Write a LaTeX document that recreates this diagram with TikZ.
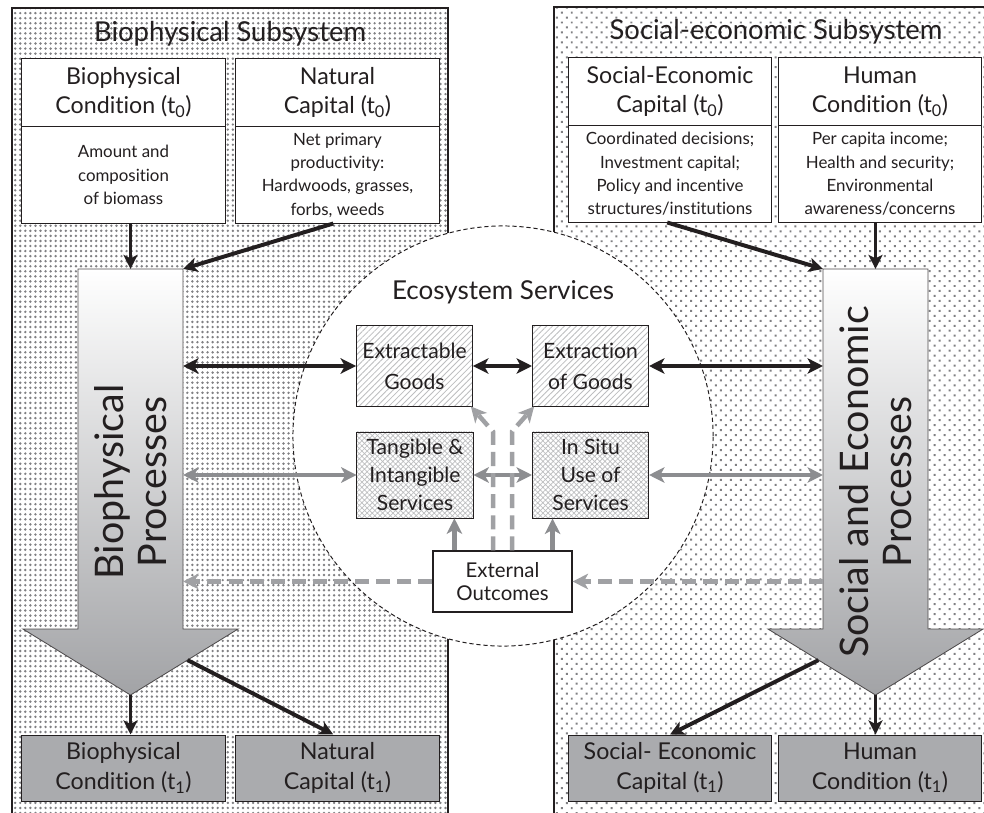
\documentclass[tikz,border=0pt]{standalone}
\usepackage{fontspec}
\setmainfont{Lato}[Ligatures=NoCommon]
\usetikzlibrary{positioning, arrows.meta, patterns.meta, calc}
\usepackage{xcolor}
\definecolor{InkBlack}{HTML}{231F20}
\definecolor{DotGray}{HTML}{808083}
\definecolor{FlowGray}{HTML}{8C8D90}
\definecolor{DashGray}{HTML}{A0A1A4}
\definecolor{BoxGray}{HTML}{AAABAE}
\definecolor{ArrowGray}{HTML}{A2A3A6}
\definecolor{HatchGray}{HTML}{BDBEC0}

\begin{document}
\begin{tikzpicture}[x=0.025cm, y=-0.025cm,
    panelline/.style={draw=InkBlack, line width=0.8pt},
    paneltitle/.style={anchor=base, font=\fontsize{19.5}{23}\selectfont, text=InkBlack},
    headbox/.style={draw=InkBlack, fill=white, line width=0.7pt, minimum width=5.075cm,
      minimum height=1.675cm, align=center, inner sep=2pt,
      font=\fontsize{16.5}{21}\selectfont, text=InkBlack},
    bodybox/.style={headbox, minimum height=2.4cm, font=\fontsize{12}{16.6}\selectfont},
    endbox/.style={headbox, fill=BoxGray, minimum height=1.65cm},
    goodsbox/.style={draw=InkBlack, line width=0.7pt,
      pattern={Lines[angle=45, distance=3pt, line width=0.6pt]}, pattern color=HatchGray,
      minimum width=2.9cm, minimum height=2cm, align=center, inner sep=1pt,
      font=\fontsize{15}{22}\selectfont, text=InkBlack},
    servbox/.style={goodsbox, pattern={Hatch[angle=45, distance=2.6pt, line width=0.5pt]},
      minimum height=2.15cm, font=\fontsize{15}{20}\selectfont},
    outbox/.style={draw=InkBlack, fill=white, line width=0.8pt, minimum width=3.475cm,
      minimum height=1.525cm, align=center, font=\fontsize{14.5}{16}\selectfont, text=InkBlack},
    ecoring/.style={circle, draw=InkBlack, fill=white, line width=0.7pt,
      dash pattern=on 3pt off 2pt, minimum size=10.5cm},
    shaft/.style={minimum width=2.625cm, minimum height=9cm, inner sep=0pt, outer sep=0pt},
    bigarrow/.style={draw=InkBlack!80, line width=0.6pt, top color=white, bottom color=ArrowGray},
    proctext/.style={rotate=90, align=center, font=\fontsize{28}{31}\selectfont, text=InkBlack},
    feed/.style={draw=InkBlack, line width=2.8pt, -{Stealth[length=10pt, width=10pt, inset=2.5pt]}},
    goodsflow/.style={draw=InkBlack, line width=3.2pt,
      {Stealth[length=11pt, width=11pt, inset=3pt]}-{Stealth[length=11pt, width=11pt, inset=3pt]}},
    serviceflow/.style={goodsflow, draw=FlowGray},
    upflow/.style={draw=FlowGray, line width=3.2pt, -{Stealth[length=11pt, width=11pt, inset=3pt]}},
    outflow/.style={draw=DashGray, line width=3.2pt, dash pattern=on 10pt off 5pt,
      -{Stealth[length=11pt, width=11pt, inset=3pt]}}]

    \useasboundingbox (0,0) rectangle (984,813);
    \clip (0,0) rectangle (984,813);

    % Subsystem panels
    \fill[pattern={Dots[distance=3.6pt, radius=0.95pt]}, pattern color=DotGray] (12,8) rectangle (448,813);
    \draw[panelline] (12,813) -- (12,8) -- (448,8) -- (448,813);
    \fill[pattern={Dots[distance=5pt, angle=45, radius=1pt]}, pattern color=DotGray] (554,7) rectangle (984,813);
    \draw[panelline] (554,813) -- (554,7) -- (984,7);

    \node[paneltitle] (bioT) at (230,42) {Biophysical Subsystem};
    \node[paneltitle] (socT) at (776,40) {Social-economic Subsystem};

    % Conditions and capital at t0
    \node[headbox] (bioCh) at (123.5,92.5) {Biophysical\\Condition (t\textsubscript{0})};
    \node[bodybox, below=0pt of bioCh] (bioCb) {Amount and\\composition\\of biomass};
    \node[headbox] (natCh) at (337.5,92.5) {Natural\\Capital (t\textsubscript{0})};
    \node[bodybox, below=0pt of natCh] (natCb) {Net primary\\productivity:\\Hardwoods, grasses,\\forbs, weeds};
    \node[headbox] (socCh) at (670,91.5) {Social-Economic\\Capital (t\textsubscript{0})};
    \node[bodybox, below=0pt of socCh] (socCb) {Coordinated decisions;\\Investment capital;\\Policy and incentive\\structures/institutions};
    \node[headbox] (humCh) at (880,91.5) {Human\\Condition (t\textsubscript{0})};
    \node[bodybox, below=0pt of humCh] (humCb) {Per capita income;\\Health and security;\\Environmental\\awareness/concerns};

    % Ecosystem services
    \node[ecoring] (eco) at (503,436) {};
    \node[paneltitle, font=\fontsize{18.5}{22}\selectfont] (ecoT) at (503,299) {Ecosystem Services};

    % Process arrows
    \node[shaft] (bioP) at (130.5,449) {};
    \path[bigarrow] (bioP.north west) -- (bioP.north east) -- (bioP.south east)
      -- ++(55,0) coordinate (bioHR) -- ($(bioP.south)+(0,66)$) coordinate (bioTip)
      -- ($(bioP.south west)+(-55,0)$) -- (bioP.south west) -- cycle;
    \node[proctext] (bioPT) at (130.5,482) {Biophysical\\Processes};

    \node[shaft] (socP) at (875.5,449) {};
    \path[bigarrow] (socP.north west) -- (socP.north east) -- (socP.south east)
      -- ++(55,0) -- ($(socP.south)+(0,66)$) coordinate (socTip)
      -- ($(socP.south west)+(-55,0)$) coordinate (socHL) -- (socP.south west) -- cycle;
    \node[proctext] (socPT) at (875.5,482) {Social and Economic\\Processes};

    % Goods and services
    \node[goodsbox] (xgoods) at (414.5,366) {Extractable\\Goods};
    \node[goodsbox] (xtract) at (590.5,366) {Extraction\\of Goods};
    \node[servbox] (tangs) at (415,475) {Tangible \&\\Intangible\\Services};
    \node[servbox] (insitu) at (590.5,475) {In Situ\\Use of\\Services};
    \node[outbox] (extO) at (502.5,581.5) {External\\Outcomes};

    % Inputs at t0
    \draw[feed] (bioP.north |- bioCb.south) -- (bioP.north);
    \draw[feed] ([xshift=-3pt]natCb.south) -- (bioP.north east);
    \draw[feed] ([xshift=-2pt]socCb.south) -- (socP.north west);
    \draw[feed] (socP.north |- humCb.south) -- (socP.north);

    % Flows through the services
    \draw[goodsflow] (bioP.east |- xgoods.west) -- (xgoods.west);
    \draw[goodsflow] (xgoods.east) -- (xtract.west);
    \draw[goodsflow] (xtract.east) -- (socP.west |- xtract.east);
    \draw[serviceflow] (bioP.east |- tangs.west) -- (tangs.west);
    \draw[serviceflow] (tangs.east) -- (insitu.west);
    \draw[serviceflow] (insitu.east) -- (socP.west |- insitu.east);

    % External outcomes
    \coordinate (upL) at ($(extO.north west)+(22,0)$);
    \coordinate (upR) at ($(extO.north east)+(-20,0)$);
    \coordinate (dL) at ($(extO.north)+(-9.5,0)$);
    \coordinate (dR) at ($(extO.north)+(9.5,0)$);
    \draw[upflow] (upL) -- (upL |- tangs.south);
    \draw[upflow] (upR) -- (upR |- insitu.south);
    \draw[outflow] (dL) -- (dL |- tangs.north) -- ([xshift=-1.5pt]xgoods.south east);
    \draw[outflow] (dR) -- (dR |- insitu.north) -- ([xshift=1.5pt]xtract.south west);
    \draw[outflow] (extO.west) -- (bioP.east |- extO.west);
    \draw[outflow] (socP.west |- extO.east) -- (extO.east);

    % Outputs at t1
    \node[endbox] (bioC1) at (123.5,768) {Biophysical\\Condition (t\textsubscript{1})};
    \node[endbox] (natC1) at (337.5,768) {Natural\\Capital (t\textsubscript{1})};
    \node[endbox] (socC1) at (670,768) {Social- Economic\\Capital (t\textsubscript{1})};
    \node[endbox] (humC1) at (880,768) {Human\\Condition (t\textsubscript{1})};

    \draw[feed] (bioTip) -- (bioTip |- bioC1.north);
    \draw[feed] ($(bioHR)!0.47!(bioTip)$) -- ([xshift=-3pt]natC1.north);
    \draw[feed] (socTip) -- (socTip |- humC1.north);
    \draw[feed] ($(socHL)!0.47!(socTip)$) -- (socC1.north);
\end{tikzpicture}
\end{document}
